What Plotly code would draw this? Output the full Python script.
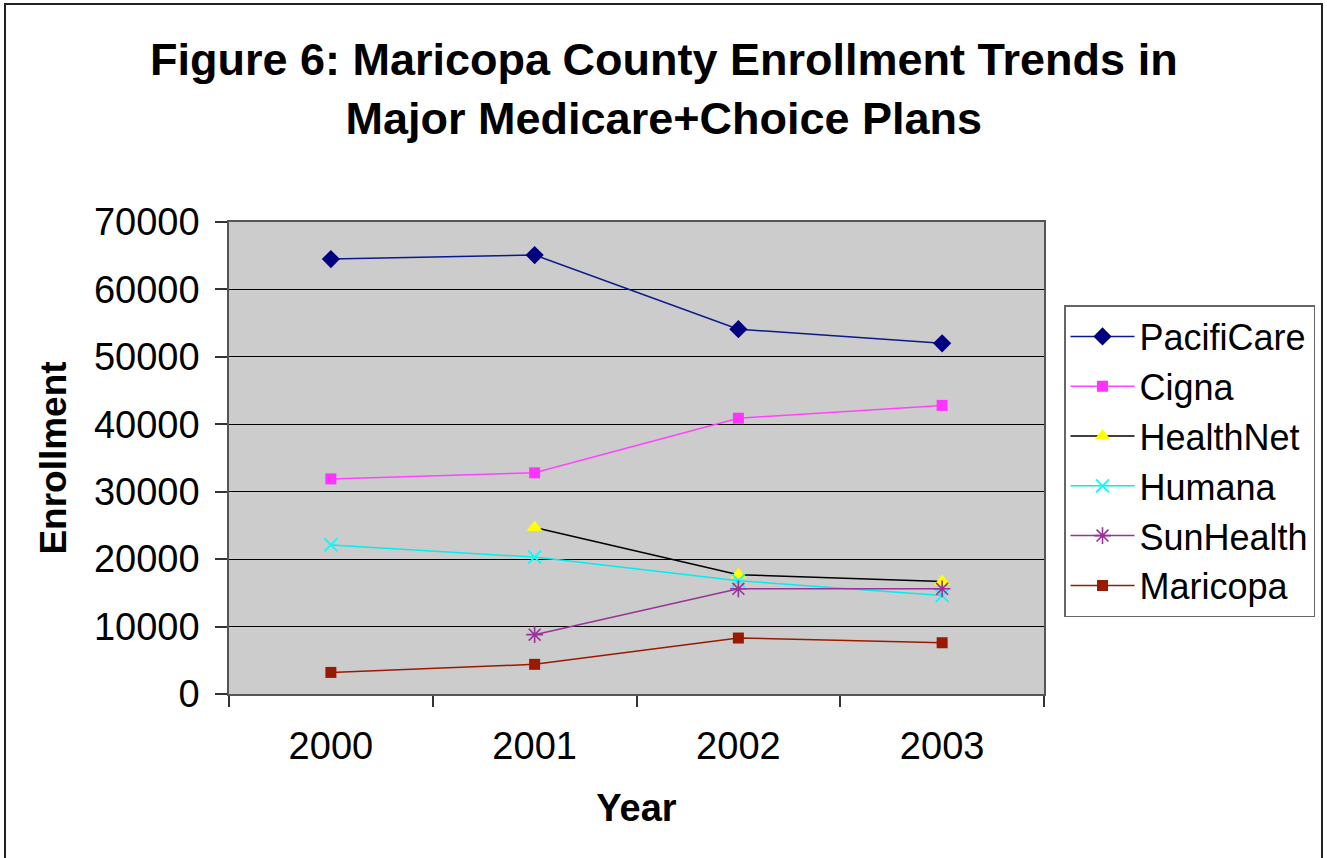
import plotly.graph_objects as go

years = ["2000", "2001", "2002", "2003"]
pacificare = [64500, 65100, 54100, 52000]
cigna = [31900, 32800, 40900, 42800]
healthnet = [None, 24700, 17700, 16700]
humana = [22100, 20300, 16800, 14600]
sunhealth = [None, 8800, 15600, 15600]
maricopa = [3200, 4400, 8300, 7600]
y_ticks = [0, 10000, 20000, 30000, 40000, 50000, 60000, 70000]

W, H = 1327, 858
L, R, T, B = 229, 283, 222, 164
PW = W - L - R
PH = H - T - B

def px_x(p):
    return (p - L) / PW

def px_y(q):
    return (H - B - q) / PH

FONT = "Liberation Sans, Arial, sans-serif"

fig = go.Figure()
series = [
    ("PacifiCare", pacificare, "#0A1A8C", dict(symbol="diamond", size=14, color="#000080")),
    ("Cigna", cigna, "#FF44FF", dict(symbol="square", size=11, color="#FF33FF")),
    ("HealthNet", healthnet, "#000000", dict(symbol="triangle-up", size=14, color="#FFFF00")),
    ("Humana", humana, "#00EEEE", dict(symbol="x-thin-open", size=13, color="#00FFFF",
                                       line=dict(color="#00FFFF", width=1.8))),
    ("SunHealth", sunhealth, "#993399", dict(symbol="asterisk-open", size=14, color="#993399",
                                             line=dict(color="#993399", width=1.6))),
    ("Maricopa", maricopa, "#991A00", dict(symbol="square", size=11, color="#991A00")),
]
for name, vals, lcol, marker in series:
    fig.add_trace(go.Scatter(
        x=years, y=vals, name=name, mode="lines+markers",
        line=dict(color=lcol, width=1.5),
        marker=marker,
        connectgaps=False,
    ))

fig.update_layout(
    width=W, height=H,
    margin=dict(l=L, r=R, t=T, b=B, pad=0),
    paper_bgcolor="white",
    plot_bgcolor="#CCCCCC",
    font=dict(family=FONT, size=36, color="black"),
    showlegend=True,
    legend=dict(
        x=px_x(1064), y=px_y(305), xanchor="left", yanchor="top",
        bgcolor="white", bordercolor="#666666", borderwidth=1.5,
        font=dict(family=FONT, size=36, color="black"),
        tracegroupgap=0, itemwidth=64,
    ),
    xaxis=dict(
        type="category", range=[-0.5, 3.5],
        tickson="boundaries", ticks="outside", ticklen=11, tickwidth=1.5, tickcolor="#333333",
        showline=True, linecolor="#555555", linewidth=1.5, mirror=True,
        showgrid=False, zeroline=False,
        tickfont=dict(family=FONT, size=38),
        ticklabelstandoff=18,
        title=dict(text="<b>Year</b>", font=dict(family=FONT, size=38), standoff=28),
    ),
    yaxis=dict(
        range=[0, 70000], tickvals=y_ticks, ticktext=[str(v) for v in y_ticks],
        ticks="outside", ticklen=12, tickwidth=1.5, tickcolor="#333333",
        showline=True, linecolor="#555555", linewidth=1.5, mirror=True,
        showgrid=True, gridcolor="#000000", gridwidth=1.2, zeroline=False,
        tickfont=dict(family=FONT, size=38),
        ticklabelstandoff=8,
        title=dict(text="<b>Enrollment</b>", font=dict(family=FONT, size=37), standoff=16),
    ),
    annotations=[
        dict(text="<b>Figure 6: Maricopa County Enrollment Trends in<br>Major Medicare+Choice Plans</b>",
             xref="paper", yref="paper", x=px_x(663.5), y=px_y(89),
             xanchor="center", yanchor="middle", showarrow=False, align="center",
             font=dict(family=FONT, size=45, color="black")),
    ],
    shapes=[
        dict(type="rect", xref="paper", yref="paper",
             x0=px_x(5), x1=px_x(1322), y0=px_y(880), y1=px_y(4),
             line=dict(color="#222222", width=2), fillcolor="rgba(0,0,0,0)", layer="below"),
    ],
)

fig.write_html("out.html")
